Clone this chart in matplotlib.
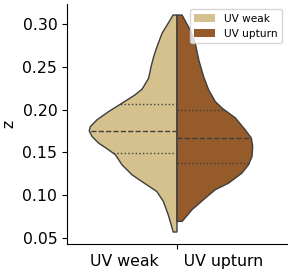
import numpy as np
import matplotlib
matplotlib.use("Agg")
import matplotlib.pyplot as plt
from matplotlib.patches import Patch

# density outlines: z level and half width (in category units)
weak_z = [0.3105, 0.2988, 0.2892, 0.2735, 0.2619, 0.2502, 0.2367, 0.2238, 0.2172,
          0.2075, 0.1977, 0.1880, 0.1802, 0.1752, 0.1685, 0.1608, 0.1530, 0.1472,
          0.1355, 0.1239, 0.1160, 0.1044, 0.0927, 0.0772, 0.0570]
weak_w = [0.018, 0.045, 0.068, 0.091, 0.106, 0.118, 0.129, 0.159, 0.191,
          0.250, 0.311, 0.364, 0.394, 0.399, 0.386, 0.356, 0.311, 0.280,
          0.250, 0.205, 0.160, 0.092, 0.062, 0.040, 0.017]

upturn_z = [0.3105, 0.2930, 0.2775, 0.2580, 0.2385, 0.2230, 0.2094, 0.2017, 0.1904,
            0.1764, 0.1667, 0.1569, 0.1452, 0.1355, 0.1258, 0.1142, 0.1064, 0.0967,
            0.0830, 0.0714, 0.0694]
upturn_w = [0.023, 0.060, 0.083, 0.099, 0.121, 0.144, 0.174, 0.205, 0.265,
            0.310, 0.338, 0.344, 0.341, 0.325, 0.295, 0.235, 0.174, 0.129,
            0.068, 0.030, 0.023]

# quartiles (25%, 50%, 75%)
weak_q = [0.149, 0.175, 0.2062]
upturn_q = [0.1373, 0.1665, 0.200]

labels = ["UV weak", "UV upturn"]
colors = ["#d5c18d", "#955b2a"]
edge = "#3d3d3d"

fig = plt.figure(figsize=(2.93, 2.76), dpi=100)
ax = fig.add_axes([0.2287, 0.116, 0.7508, 0.8695])

sides = [(weak_z, weak_w, weak_q, -1), (upturn_z, upturn_w, upturn_q, 1)]
for (z, w, q, sgn), c in zip(sides, colors):
    z = np.array(z)
    w = np.array(w)
    xs = np.concatenate([[0], sgn * w, [0]])
    ys = np.concatenate([[z[0]], z, [z[-1]]])
    ax.fill(xs, ys, facecolor=c, edgecolor=edge, linewidth=1, zorder=2)
    order = np.argsort(z)
    for i, qv in enumerate(q):
        hw = np.interp(qv, z[order], w[order])
        ls = "--" if i == 1 else ":"
        ax.plot([0, sgn * hw], [qv, qv], color=edge, linestyle=ls,
                linewidth=1, zorder=3)

ax.set_xlim(-0.5, 0.5)
ax.set_ylim(0.043, 0.3234)
ax.set_yticks([0.05, 0.10, 0.15, 0.20, 0.25, 0.30])
ax.set_xticks([0])
ax.set_xticklabels(["UV weak     UV upturn"])
ax.tick_params(labelsize=11.3)
ax.set_ylabel("z", fontsize=11.3)
ax.spines["top"].set_visible(False)
ax.spines["right"].set_visible(False)

handles = [Patch(facecolor=c, edgecolor="none", label=l) for c, l in zip(colors, labels)]
ax.legend(handles=handles, loc="upper right", fontsize=7.6)

fig.savefig("out.png", dpi=100)
